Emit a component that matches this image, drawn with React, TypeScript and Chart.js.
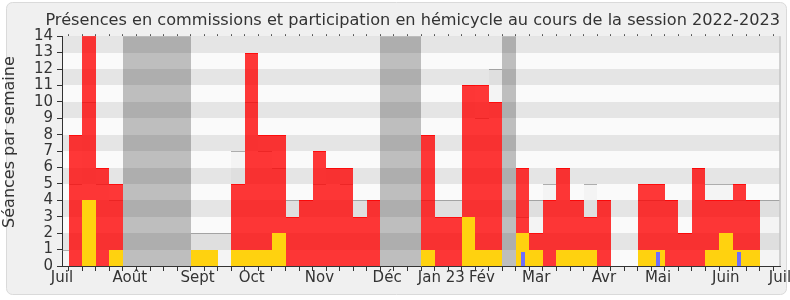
import React, { useEffect, useRef } from 'react';
import { Chart, registerables } from 'chart.js';

Chart.register(...registerables);

// Week positions on the x axis (0 = 1st July 2022, 53 = 1st July 2023)
const semaines = [
  0, 1, 2, 3, 4, 5, 6, 7, 8, 9, 10, 11, 12, 13, 14, 15, 16, 17, 18, 19, 20, 21, 22, 23, 24, 25, 26,
  27, 28, 29, 30, 31, 32, 33, 34, 35, 36, 37, 38, 39, 40, 41, 42, 43, 44, 45, 46, 47, 48, 49, 50, 51,
  52, 53,
];

const moisPositions = [0, 5, 10, 14, 19, 24, 28, 31, 35, 40, 44, 49, 53];
const moisLabels = ['Juil', 'Août', 'Sept', 'Oct', 'Nov', 'Déc', 'Jan 23', 'Fév', 'Mar', 'Avr', 'Mai', 'Juin', 'Juil'];

const vacances = [
  0, 0, 0, 0, 0, 14, 14, 14, 14, 14, 0, 0, 0, 0, 0, 0, 0, 0, 0, 0, 0, 0, 0, 0, 14, 14, 14,
  0, 0, 0, 0, 0, 0, 14, 0, 0, 0, 0, 0, 0, 0, 0, 0, 0, 0, 0, 0, 0, 0, 0, 0, 0,
  0, 0,
];

const presenceHemicycle = [
  1, 5, 10, 5, 4, 0, 0, 0, 0, 0, 2, 2, 2, 7, 10, 7, 6, 4, 4, 5, 6, 5, 4, 4, 0, 0, 0,
  4, 4, 4, 11, 9, 12, 0, 3, 4, 5, 6, 4, 5, 4, 0, 0, 4, 4, 4, 2, 6, 5, 5, 4, 4,
  4, 4,
];

const presenceCommission = [
  0, 8, 14, 6, 5, 0, 0, 0, 0, 0, 0, 0, 0, 5, 13, 8, 8, 3, 4, 7, 6, 6, 3, 4, 0, 0, 0,
  8, 3, 3, 11, 11, 10, 0, 6, 2, 4, 6, 4, 3, 4, 0, 0, 5, 5, 4, 2, 6, 4, 4, 5, 4,
  0, 0,
];

const participationHemicycle = [
  0, 0, 4, 0, 1, 0, 0, 0, 0, 0, 1, 1, 0, 1, 1, 1, 2, 0, 0, 0, 0, 0, 0, 0, 0, 0, 0,
  1, 0, 0, 3, 1, 1, 0, 2, 1, 0, 1, 1, 1, 0, 0, 0, 1, 1, 0, 0, 0, 1, 2, 1, 1,
  0, 0,
];

const questionsOrales = [
  0, 0, 0, 0, 0, 0, 0, 0, 0, 0, 0, 0, 0, 0, 0, 0, 0, 0, 0, 0, 0, 0, 0, 0, 0, 0, 0,
  0, 0, 0, 0, 0, 0, 0, 0.87, 0, 0, 0, 0, 0, 0, 0, 0, 0, 0.87, 0, 0, 0, 0, 0, 0.87, 0,
  0, 0,
];

const titreY = 'Séances par semaine';

const toPoints = (arr: number[]) =>
  arr.map((v, i) => ({ x: semaines[i], y: v === 0 ? null : v }));

const FONT = 'DejaVu Sans';
const TEXT = '#333333';

const decorPlugin = {
  id: 'decor',
  beforeDraw(chart: any) {
    const { ctx, chartArea: a } = chart;
    ctx.save();
    ctx.fillStyle = '#ffffff';
    ctx.fillRect(0, 0, chart.width, chart.height);
    const x = 6.5, y = 2.5, w = 780, h = 292, r = 6;
    ctx.beginPath();
    ctx.moveTo(x + r, y);
    ctx.lineTo(x + w - r, y);
    ctx.arcTo(x + w, y, x + w, y + r, r);
    ctx.lineTo(x + w, y + h - r);
    ctx.arcTo(x + w, y + h, x + w - r, y + h, r);
    ctx.lineTo(x + r, y + h);
    ctx.arcTo(x, y + h, x, y + h - r, r);
    ctx.lineTo(x, y + r);
    ctx.arcTo(x, y, x + r, y, r);
    ctx.closePath();
    ctx.fillStyle = '#f0f0f0';
    ctx.fill();
    ctx.strokeStyle = '#dadada';
    ctx.lineWidth = 1;
    ctx.stroke();
    ctx.fillStyle = '#fafafa';
    ctx.fillRect(a.left, a.top, a.right - a.left, a.bottom - a.top);
    ctx.restore();
  },
  beforeDatasetsDraw(chart: any) {
    // snap bar edges to whole pixels so adjacent translucent bars do not show seams
    chart.getSortedVisibleDatasetMetas().forEach((meta: any) => {
      meta.data.forEach((el: any) => {
        el.inflateAmount = 0;
        if (!isFinite(el.x) || !isFinite(el.width)) return;
        const l = Math.round(el.x - el.width / 2);
        const r = Math.round(el.x + el.width / 2);
        el.x = (l + r) / 2;
        el.width = r - l;
        if (isFinite(el.y)) el.y = Math.round(el.y);
        if (isFinite(el.base)) el.base = Math.round(el.base);
      });
    });
  },
  afterDatasetDraw(chart: any, args: any) {
    if (args.index !== 0) return;
    const { ctx, chartArea: a } = chart;
    const ys = chart.scales.y;
    ctx.save();
    ctx.fillStyle = 'rgba(0,0,0,0.084)';
    for (let k = 1; k < ys.max; k += 2) {
      const top = Math.round(ys.getPixelForValue(k + 1));
      const bot = Math.round(ys.getPixelForValue(k));
      ctx.fillRect(a.left, top, a.right - a.left, bot - top);
    }
    ctx.restore();
  },
  afterDatasetsDraw(chart: any) {
    const { ctx, chartArea: a } = chart;
    ctx.save();
    ctx.strokeStyle = '#c4c4c4';
    ctx.lineWidth = 1.5;
    ctx.beginPath();
    ctx.moveTo(a.right, a.top);
    ctx.lineTo(a.right, a.bottom);
    ctx.stroke();
    ctx.restore();
  },
  afterDraw(chart: any) {
    const { ctx, chartArea: a } = chart;
    ctx.save();
    ctx.fillStyle = TEXT;
    ctx.font = `16px "${FONT}"`;
    ctx.textAlign = 'center';
    ctx.textBaseline = 'middle';
    ctx.translate(10, (a.top + a.bottom) / 2 - 9);
    ctx.rotate(-Math.PI / 2);
    ctx.fillText(titreY, 0, 0);
    ctx.restore();
  },
};

const barCommon = {
  grouped: false,
  barPercentage: 1,
  categoryPercentage: 1,
  inflateAmount: 0,
  clip: 0,
};

export default function App() {
  const ref = useRef<HTMLCanvasElement>(null);

  useEffect(() => {
    if (!ref.current) return;
    Chart.defaults.font.family = FONT;
    const chart = new Chart(ref.current, {
      type: 'bar',
      data: {
        datasets: [
          {
            ...barCommon,
            label: 'Vacances',
            data: toPoints(vacances),
            backgroundColor: 'rgb(190,190,190)',
            borderWidth: 0,
            order: 10,
          },
          {
            ...barCommon,
            label: 'Présence en hémicycle',
            data: toPoints(presenceHemicycle),
            backgroundColor: 'rgba(0,0,0,0.025)',
            borderColor: 'rgba(110,110,110,0.55)',
            borderWidth: { top: 1, right: 0, bottom: 0, left: 0 },
            order: 8,
          },
          {
            ...barCommon,
            label: 'Présence en commission',
            data: toPoints(presenceCommission),
            backgroundColor: 'rgba(255,0,0,0.78)',
            borderColor: 'rgba(255,0,0,0.95)',
            borderWidth: { top: 1, right: 0, bottom: 0, left: 0 },
            order: 6,
          },
          {
            ...barCommon,
            label: 'Participation en hémicycle',
            data: toPoints(participationHemicycle),
            backgroundColor: 'rgb(255,210,15)',
            borderWidth: 0,
            order: 4,
          },
          {
            ...barCommon,
            barPercentage: 0.3,
            label: 'Questions orales',
            data: toPoints(questionsOrales),
            backgroundColor: 'rgb(110,110,250)',
            borderWidth: 0,
            order: 2,
          },
        ],
      } as any,
      options: {
        responsive: false,
        animation: false,
        layout: { padding: { left: 0, right: 10, top: 0, bottom: 0 } },
        plugins: {
          legend: { display: false },
          tooltip: { enabled: false },
          title: {
            display: true,
            align: 'end',
            text: 'Présences en commissions et participation en hémicycle au cours de la session 2022-2023',
            color: TEXT,
            font: { family: FONT, size: 16.15, weight: 'normal' },
            padding: { top: 11, bottom: 1.8 },
          },
        },
        scales: {
          x: {
            type: 'linear',
            position: 'bottom',
            min: 0,
            max: 53,
            offset: false,
            z: 1,
            grid: { drawOnChartArea: false, drawTicks: true, tickLength: 5, color: TEXT },
            border: { display: true, color: TEXT, width: 1 },
            ticks: {
              stepSize: 1,
              autoSkip: false,
              maxRotation: 0,
              minRotation: 0,
              padding: -2,
              color: TEXT,
              font: { family: FONT, size: 15 },
              callback: (value: any) => {
                const i = moisPositions.indexOf(Number(value));
                return i >= 0 ? moisLabels[i] : '';
              },
            },
            afterFit: (s: any) => {
              s.height = 34;
              s.paddingLeft = 0;
              s.paddingRight = 0;
            },
          },
          x2: {
            type: 'linear',
            axis: 'x',
            position: 'top',
            min: 0,
            max: 53,
            offset: false,
            z: 1,
            grid: { drawOnChartArea: false, drawTicks: true, tickLength: 2, color: '#555' },
            border: { display: false },
            ticks: { stepSize: 1, display: false },
            afterFit: (s: any) => {
              s.height = 4;
              s.paddingLeft = 0;
              s.paddingRight = 0;
            },
          },
          y: {
            type: 'linear',
            min: 0,
            max: 14,
            z: 1,
            grid: { drawOnChartArea: false, drawTicks: true, tickLength: 5, color: TEXT },
            border: { display: true, color: TEXT, width: 1 },
            ticks: {
              stepSize: 1,
              autoSkip: false,
              padding: 4,
              color: TEXT,
              font: { family: FONT, size: 15 },
            },
            afterFit: (s: any) => {
              s.width = 62;
            },
          },
        },
      } as any,
      plugins: [decorPlugin],
    });
    return () => chart.destroy();
  }, []);

  return (
    <div style={{ position: 'fixed', left: 0, top: 0, width: 790, height: 300 }}>
      <canvas ref={ref} width={790} height={300} style={{ display: 'block' }} />
    </div>
  );
}
